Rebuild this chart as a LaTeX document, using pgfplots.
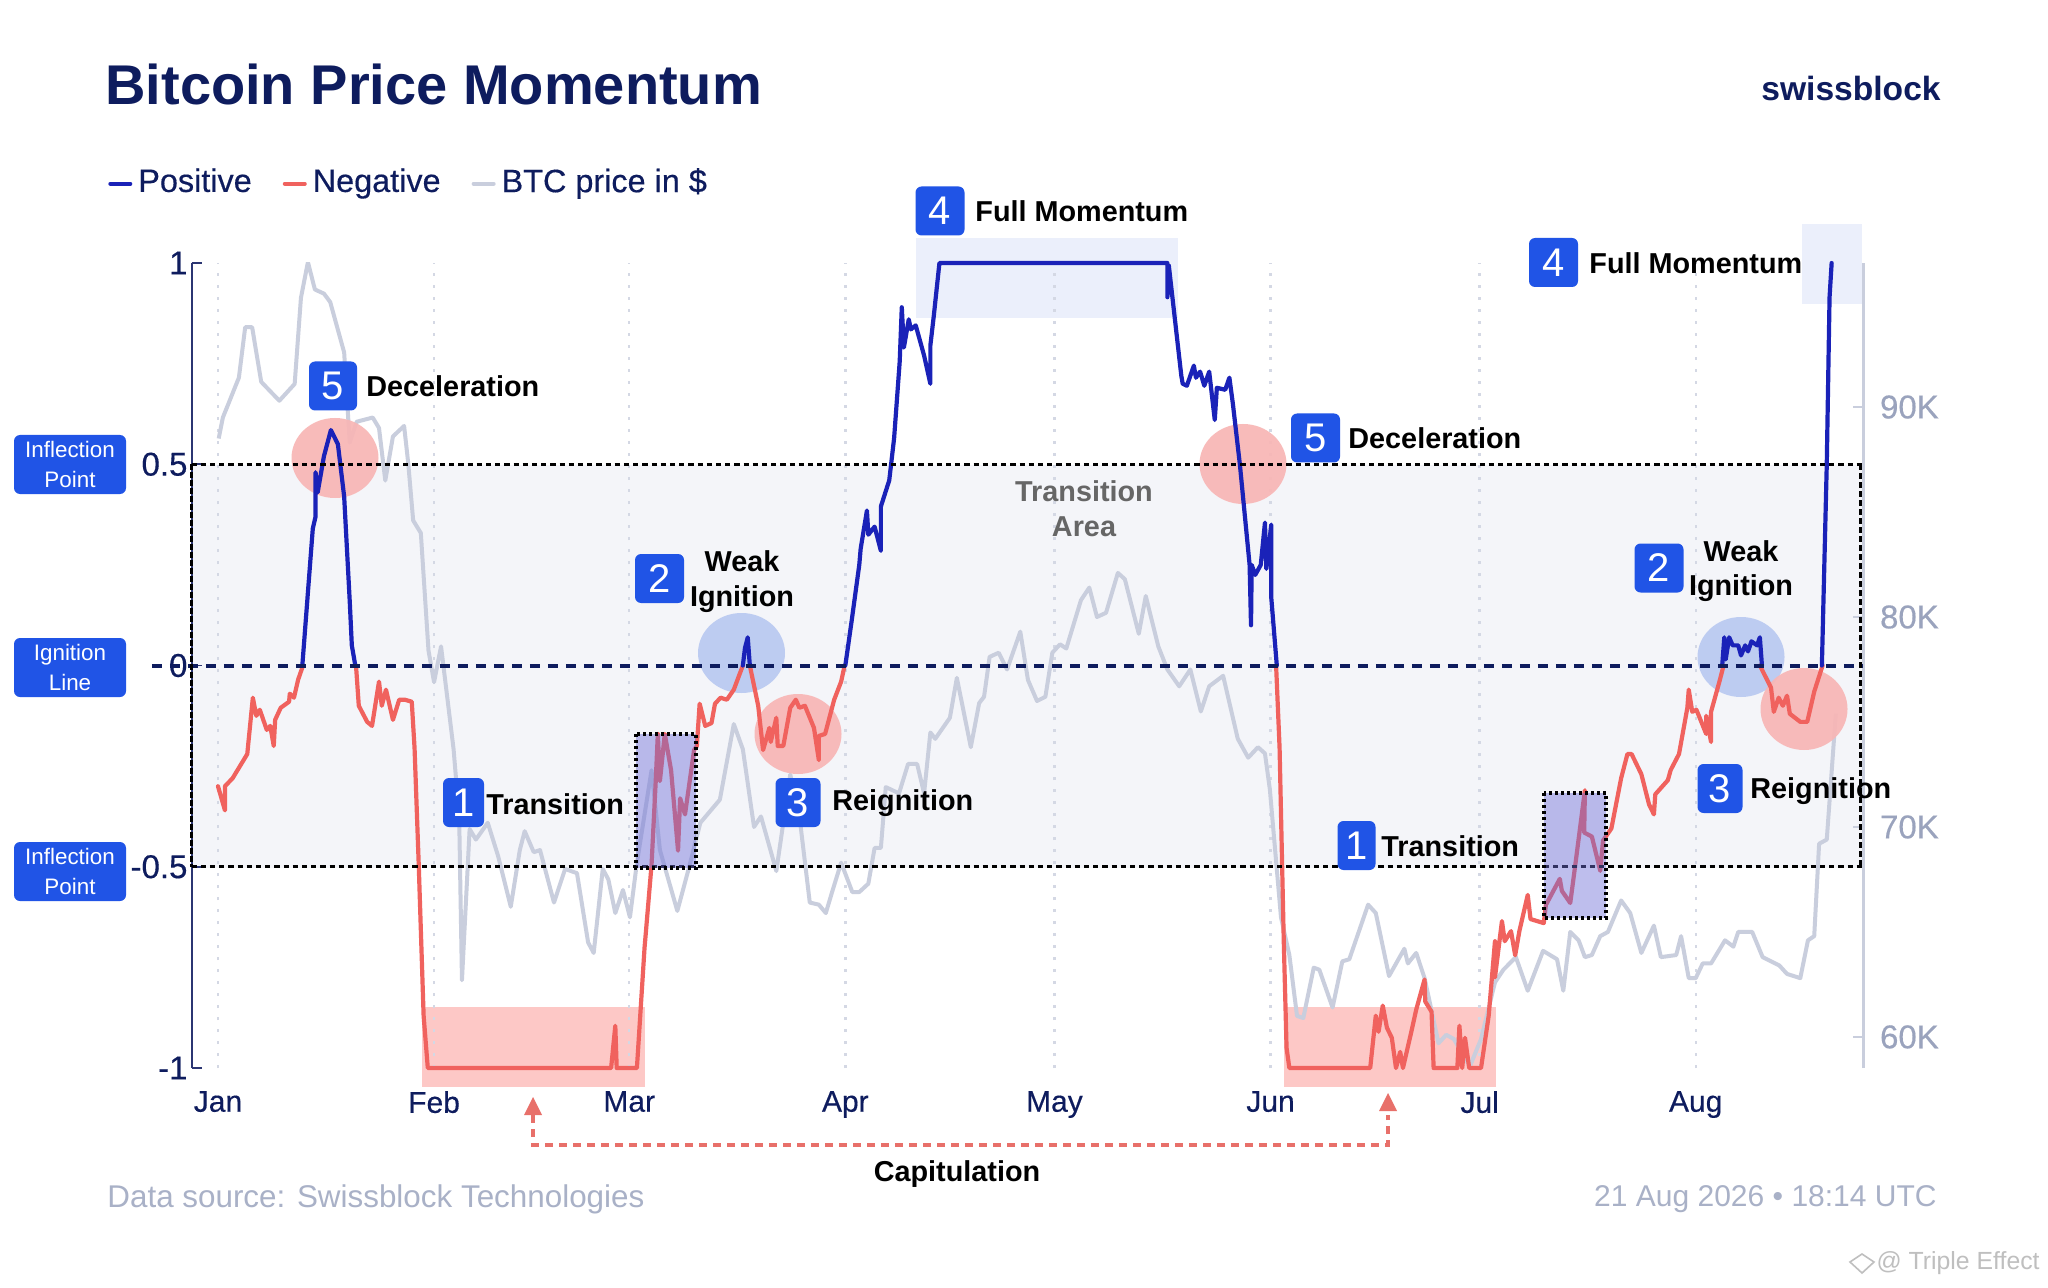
\documentclass[border=0pt]{standalone}
\usepackage{fontspec}
\setmainfont{Liberation Sans}
\newfontfamily\medf[FakeBold=0.35]{Liberation Sans}
\usepackage{pgfplots}
\pgfplotsset{compat=1.18}
\usetikzlibrary{arrows.meta}
\definecolor{navy}{HTML}{0E1C5E}
\definecolor{axnavy}{HTML}{2B3572}
\definecolor{posblue}{HTML}{1A22B8}
\definecolor{negred}{HTML}{F0625E}
\definecolor{btcgrey}{HTML}{C9CEDD}
\definecolor{rightgrey}{HTML}{9AA3BD}
\definecolor{bdg}{HTML}{2054E6}
\definecolor{bandc}{HTML}{F4F5F9}
\definecolor{fullc}{HTML}{EBEFFB}
\definecolor{capc}{HTML}{FDC8C6}
\definecolor{circred}{HTML}{F8B6B5}
\definecolor{circblue}{HTML}{B9C9F1}
\definecolor{boxc}{HTML}{6F6FD8}
\definecolor{arrowc}{HTML}{E8706A}
\newcommand\fs[1]{\fontsize{#1}{#1}\selectfont}
\newcommand\badge[3]{\node[fill=bdg,rounded corners=3pt,text=white,inner sep=0pt,minimum width=#3*0.5pt,minimum height=24.5pt,font=\fs{20}] at (#1) {#2};}
\newcommand\lab[2]{\node[fill=bdg,rounded corners=3pt,text=white,inner sep=0pt,minimum width=56pt,minimum height=29.5pt,align=center,font=\fs{11.2}\linespread{1}] at (#1) {#2};}
\begin{document}
\begin{tikzpicture}
\path[fill=white,use as bounding box] (0,0) rectangle (1024pt,643.5pt);
% backgrounds, in reference pixels
\begin{scope}[shift={(0pt,643.5pt)},x=0.5pt,y=-0.5pt]
\fill[bandc] (192,465) rectangle (1862,868);
\fill[fullc] (916,238) rectangle (1178,318);
\fill[fullc] (1802,224) rectangle (1862,304);
\fill[capc] (422,1007) rectangle (645,1087);
\fill[capc] (1284,1007) rectangle (1496,1087);
\end{scope}
% price axis
\begin{axis}[at={(95.75pt,109.5pt)},anchor=south west,scale only axis,
  width=835.75pt,height=402.5pt,
  xmin=-3.8,xmax=236,ymin=58.52,ymax=96.86,
  axis y line*=right,axis x line*=bottom,
  x axis line style={draw=none},
  y axis line style={-,draw=btcgrey,line width=1.5pt},
  ytick={60,70,80,90},yticklabels={60K,70K,80K,90K},
  yticklabel style={text=rightgrey,font=\medf\fs{16.5},xshift=5pt},
  y tick style={draw=btcgrey,line width=0.8pt},
  major tick length=5pt,
  xtick={0,31,59,90,120,151,181,212},xticklabels={},
  x tick style={draw=none},
  xmajorgrids,
  grid style={draw=btcgrey!80,line width=1.2pt,dash pattern=on 1.5pt off 4.5pt},
]
\addplot[btcgrey,line width=2pt,line join=round,no markers] table {
0.1 88.5
0.7 89.5
3.0 91.4
3.9 93.8
4.9 93.8
6.2 91.2
8.8 90.3
11.0 91.1
11.9 95.2
12.9 96.9
13.9 95.6
15.2 95.4
16.1 95.0
18.1 92.6
18.9 88.3
19.9 89.3
22.2 89.5
23.1 89.0
24.0 86.5
25.1 88.6
26.7 89.1
27.3 87.3
28.0 84.6
29.1 84.0
30.2 78.4
31.0 76.9
32.0 78.6
33.8 73.7
34.6 70.5
35.0 62.7
36.1 69.9
37.0 69.4
38.7 70.2
40.2 68.6
42.0 66.2
43.3 68.9
44.0 69.8
45.3 68.8
46.2 68.9
48.2 66.4
49.8 68.0
51.5 67.8
53.1 64.5
53.9 64.0
55.2 68.0
56.0 67.5
57.0 65.9
58.1 67.0
59.1 65.7
60.1 68.3
62.2 72.7
63.4 68.9
65.9 66.0
67.6 68.1
69.2 70.2
72.0 71.3
74.0 74.9
75.3 73.7
76.9 70.0
77.9 70.5
80.1 67.9
81.1 70.2
82.1 72.5
83.6 70.0
84.9 66.4
86.2 66.3
87.2 65.9
88.1 66.9
89.4 68.3
91.0 66.9
92.0 66.9
93.3 67.3
94.2 69.0
95.1 69.0
95.8 71.9
97.7 71.6
99.0 73.0
100.3 73.0
101.3 71.6
102.2 74.5
102.9 74.2
105.0 75.2
106.0 77.1
108.0 73.8
109.2 75.9
109.9 76.2
110.7 78.1
112.0 78.3
113.2 77.5
115.1 79.3
116.2 77.0
117.5 76.0
118.7 76.2
119.7 78.3
120.8 78.7
121.7 78.5
123.8 80.8
125.0 81.4
126.1 80.0
127.4 80.2
129.1 82.1
130.1 81.8
132.1 79.2
133.1 81.0
134.9 78.6
136.2 77.5
137.9 76.7
139.5 77.5
141.0 75.5
142.2 76.7
144.2 77.2
146.3 74.2
147.8 73.3
149.2 73.8
150.2 73.5
150.9 71.8
152.5 65.7
153.7 63.9
154.8 61.0
155.7 60.9
157.2 63.3
158.0 63.2
159.9 61.4
161.3 63.6
162.3 63.7
165.0 66.3
166.1 65.9
168.0 62.9
170.2 64.2
170.7 63.5
171.9 64.0
173.1 62.8
175.1 59.7
176.2 60.1
177.3 59.9
179.6 58.6
181.2 59.9
183.2 62.6
184.4 63.2
186.2 63.8
187.9 62.2
190.1 64.1
192.1 63.7
193.0 62.2
194.0 65.0
195.2 64.6
196.1 63.8
197.1 63.9
198.3 64.8
199.4 65.0
201.3 66.5
202.6 65.9
204.2 64.0
206.0 65.3
207.0 63.8
209.2 63.9
209.9 64.8
211.0 62.8
212.0 62.8
213.0 63.5
214.2 63.5
216.2 64.6
217.4 64.3
218.1 65.0
220.1 65.0
221.6 63.8
224.0 63.4
225.1 63.0
227.0 62.8
228.1 64.6
229.0 64.8
229.7 69.2
230.8 69.4
232.1 75.4
};
\end{axis}
% circles between the price line and the momentum line
\begin{scope}[shift={(0pt,643.5pt)},x=0.5pt,y=-0.5pt]
\fill[circred,opacity=.92] (335,458) ellipse [x radius=43.5,y radius=40];
\fill[circblue,opacity=.92] (741.5,653) ellipse [x radius=43.5,y radius=40];
\fill[circred,opacity=.92] (798,734) ellipse [x radius=43.5,y radius=40];
\fill[circred,opacity=.92] (1243,464) ellipse [x radius=43.5,y radius=40];
\fill[circblue,opacity=.92] (1741,657) ellipse [x radius=43.5,y radius=40];
\fill[circred,opacity=.92] (1804,709) ellipse [x radius=43.5,y radius=41];
\end{scope}
% momentum axis
\begin{axis}[at={(95.75pt,109.5pt)},anchor=south west,scale only axis,
  width=835.75pt,height=402.5pt,clip=false,
  xmin=-3.8,xmax=236,ymin=-1,ymax=1,
  axis y line*=left,axis x line*=bottom,
  x axis line style={draw=none},
  y axis line style={-,draw=axnavy,line width=1pt},
  ytick={-1,-0.5,0,0.5,1},yticklabels={-1,-0.5,0,0.5,1},
  yticklabel style={text=navy,font=\medf\fs{16.5},xshift=1.5pt},
  y tick style={draw=axnavy,line width=0.8pt},
  major tick length=5pt,
  xtick={0,31,59,90,120,151,181,212},
  xticklabels={Jan,Feb,Mar,Apr,May,Jun,Jul,Aug},
  xticklabel style={text=navy,font=\medf\fs{15},yshift=-8pt},
  x tick style={draw=none},
  legend columns=3,
  legend style={at={(axis description cs:-0.05,1.101)},anchor=west,draw=none,fill=none,
    inner sep=0pt,font=\medf\fs{16.2},text=navy,
    /tikz/every even column/.append style={column sep=12.5pt},
    nodes={inner xsep=3pt}},
  legend cell align=left,
  legend image code/.code={\draw[#1,line width=2pt] (0,-1pt) -- (10pt,-1pt);},
]
\addlegendimage{posblue}\addlegendentry{Positive}
\addlegendimage{negred}\addlegendentry{Negative}
\addlegendimage{btcgrey}\addlegendentry{BTC price in \$}
\pgfplotsset{every axis plot/.append style={line width=2.1pt,line join=round,line cap=round,no markers,forget plot}}
% negative
\addplot[negred] table {
0 -0.30
1.0 -0.36
1.0 -0.30
2.1 -0.28
4.2 -0.22
5.0 -0.08
5.5 -0.125
6.0 -0.11
7.0 -0.16
7.5 -0.15
8.0 -0.20
8.2 -0.135
9.0 -0.105
10.2 -0.09
10.3 -0.07
10.9 -0.08
11.5 -0.035
12.2 0
};
\addplot[negred] table {
19.8 0
20.2 -0.10
21.4 -0.14
22.1 -0.15
23.1 -0.04
23.5 -0.10
24.1 -0.06
25.1 -0.135
26.0 -0.085
26.8 -0.085
27.8 -0.09
28.2 -0.205
28.8 -0.495
29.5 -0.87
30.1 -1
56.4 -1
57.0 -0.895
57.2 -1
60.1 -1
61.2 -0.70
61.4 -0.66
62.2 -0.495
62.8 -0.287
63.1 -0.17
63.4 -0.287
64.1 -0.17
65.0 -0.26
66.0 -0.46
66.3 -0.33
67.0 -0.37
68.3 -0.21
68.7 -0.20
69.1 -0.095
69.9 -0.15
70.8 -0.143
71.3 -0.095
72.1 -0.08
73.0 -0.085
74.0 -0.06
75.3 0
};
\addplot[negred] table {
76.3 0
77.5 -0.10
78.2 -0.21
79.1 -0.155
79.3 -0.19
80.1 -0.13
80.3 -0.20
81.1 -0.20
82.1 -0.105
82.9 -0.085
83.4 -0.105
84.2 -0.10
85.5 -0.155
86.2 -0.235
86.2 -0.175
87.1 -0.17
88.4 -0.085
89.4 -0.04
89.9 0
};
\addplot[negred] table {
151.8 0
152.3 -0.205
152.9 -0.685
153.3 -0.95
153.7 -1
165.3 -1
166.1 -0.87
166.5 -0.91
167.1 -0.845
167.7 -0.90
168.4 -0.925
169.0 -1
169.6 -0.96
170.0 -1
171.2 -0.91
171.9 -0.855
173.1 -0.78
173.2 -0.835
174.1 -0.86
174.4 -1
177.8 -1
178.1 -0.895
178.5 -1
178.9 -0.925
179.5 -1
181.2 -1
182.3 -0.87
183.2 -0.685
183.2 -0.775
184.2 -0.635
184.6 -0.685
185.5 -0.66
186.1 -0.72
186.7 -0.66
187.9 -0.57
188.3 -0.63
190.2 -0.64
190.5 -0.595
192.5 -0.53
192.8 -0.56
194.0 -0.59
194.8 -0.485
196.1 -0.31
196.0 -0.415
197.1 -0.425
198.3 -0.51
198.7 -0.435
199.9 -0.405
201.3 -0.28
202.2 -0.22
202.8 -0.22
204.2 -0.27
205.3 -0.345
206.0 -0.37
206.2 -0.32
208.0 -0.285
208.4 -0.26
209.6 -0.22
210.8 -0.105
211.0 -0.06
211.5 -0.115
212.1 -0.11
213.5 -0.17
213.5 -0.125
214.2 -0.19
214.2 -0.115
215.4 -0.04
216.0 0
};
\addplot[negred] table {
221.2 0
222.8 -0.055
223.2 -0.115
223.9 -0.08
224.5 -0.10
225.1 -0.075
225.5 -0.12
227.0 -0.14
228.0 -0.14
229.0 -0.065
230.2 0
};
% positive
\addplot[posblue] table {
12.1 0
13.6 0.34
14.0 0.37
14.0 0.48
14.3 0.43
15.2 0.52
16.2 0.585
17.2 0.55
18.1 0.42
18.9 0.16
19.2 0.05
19.7 0
};
\addplot[posblue] table {
75.3 0
75.6 0.043
76.0 0.07
76.3 0
};
\addplot[posblue] table {
90.0 0
90.9 0.11
92.0 0.25
92.2 0.29
93.1 0.385
93.3 0.325
94.2 0.345
95.1 0.285
95.1 0.395
96.3 0.46
97.0 0.565
97.8 0.755
98.1 0.89
98.4 0.79
99.1 0.86
99.4 0.835
100.1 0.845
101.3 0.77
102.2 0.70
102.2 0.795
102.7 0.87
103.5 1
136.2 1
136.2 0.915
136.4 0.995
138.2 0.72
138.4 0.70
139.0 0.695
140.0 0.745
140.3 0.715
140.9 0.73
141.5 0.695
142.2 0.73
143.0 0.61
143.3 0.69
144.5 0.685
145.1 0.715
145.6 0.65
146.6 0.50
148.0 0.25
148.2 0.10
148.3 0.25
148.8 0.225
149.6 0.25
150.2 0.355
150.4 0.24
151.1 0.35
151.1 0.17
151.9 0
};
\addplot[posblue] table {
215.8 0
216.1 0.07
216.3 0.015
216.8 0.07
217.3 0.05
218.1 0.05
218.5 0.025
219.1 0.05
219.5 0.035
220.0 0.06
220.8 0.05
221.2 0.07
221.5 0
};
\addplot[posblue] table {
230.1 0
230.8 0.5
231.2 0.915
231.5 1
};
% reference lines
\draw[black,line width=1.6pt,dash pattern=on 2.6pt off 2pt] (axis cs:-3.8,0.5) -- (axis cs:236,0.5);
\draw[black,line width=1.6pt,dash pattern=on 2.6pt off 2pt] (axis cs:-3.8,-0.5) -- (axis cs:236,-0.5);
\draw[navy,line width=2pt,dash pattern=on 5pt off 4pt] (axis cs:-9.5,0) -- (axis cs:236,0);
\draw[black,line width=1.3pt,dash pattern=on 3pt off 1pt] (axis cs:-3.8,0.5) -- (axis cs:-3.8,-0.5);
\draw[black,line width=1.5pt,dash pattern=on 3pt off 1.5pt] (axis cs:235.6,0.5) -- (axis cs:235.6,-0.5);
\end{axis}
% overlays, in reference pixels
\begin{scope}[shift={(0pt,643.5pt)},x=0.5pt,y=-0.5pt]
\fill[boxc,opacity=.45] (636,734) rectangle (696,868);
\fill[boxc,opacity=.45] (1544,793) rectangle (1606,918);
\draw[black,line width=2pt,dash pattern=on 1.5pt off 1.5pt] (636,734) rectangle (696,868);
\draw[black,line width=2pt,dash pattern=on 1.5pt off 1.5pt] (1544,793) rectangle (1606,918);
% title and header
\node[anchor=west,inner sep=0pt,text=navy,font=\fs{28}\bfseries] at (105,84) {Bitcoin Price Momentum};
\node[anchor=east,inner sep=0pt,text=navy,font=\fs{16.8}\bfseries] at (1941,88) {swissblock};
% left labels
\lab{70,464.5}{Inflection\\[3.5pt]Point}
\lab{70,667.5}{Ignition\\[3.5pt]Line}
\lab{70,871.5}{Inflection\\[3.5pt]Point}
% badges and captions
\badge{333,386}{5}{48}
\node[anchor=west,inner sep=0pt,font=\fs{14.4}\bfseries] at (366,386) {Deceleration};
\badge{1315.5,438}{5}{49}
\node[anchor=west,inner sep=0pt,font=\fs{14.4}\bfseries] at (1348,438) {Deceleration};
\badge{940,211}{4}{49}
\node[anchor=west,inner sep=0pt,font=\fs{14.4}\bfseries] at (975,211) {Full Momentum};
\badge{1553.5,262.5}{4}{49}
\node[anchor=west,inner sep=0pt,font=\fs{14.4}\bfseries] at (1589,263) {Full Momentum};
\badge{659.5,578.5}{2}{49}
\node[inner sep=0pt,font=\fs{14.4}\bfseries] at (742,561.5) {Weak};
\node[inner sep=0pt,font=\fs{14.4}\bfseries] at (742,599) {Ignition};
\badge{1659,568}{2}{49}
\node[inner sep=0pt,font=\fs{14.4}\bfseries] at (1741,551) {Weak};
\node[inner sep=0pt,font=\fs{14.4}\bfseries] at (1741,588) {Ignition};
\badge{463.5,802.5}{1}{41}
\node[anchor=west,inner sep=0pt,font=\fs{14.4}\bfseries] at (486,804) {Transition};
\badge{798,802.5}{3}{45}
\node[anchor=west,inner sep=0pt,font=\fs{14.4}\bfseries] at (832,803) {Reignition};
\badge{1356.5,845.5}{1}{38}
\node[anchor=west,inner sep=0pt,font=\fs{14.4}\bfseries] at (1381,846) {Transition};
\badge{1720,788.5}{3}{45}
\node[anchor=west,inner sep=0pt,font=\fs{14.4}\bfseries] at (1750,791) {Reignition};
\node[inner sep=0pt,text=black!60,font=\fs{14.4}\bfseries] at (1084,491) {Transition};
\node[inner sep=0pt,text=black!60,font=\fs{14.4}\bfseries] at (1084,527) {Area};
% capitulation arrows
\draw[arrowc,line width=1.6pt,dash pattern=on 4pt off 3pt] (533,1115) -- (533,1145) -- (1388,1145) -- (1388,1115);
\fill[arrowc] (533,1097) -- (542,1115) -- (524,1115) -- cycle;
\fill[arrowc] (1388,1093) -- (1397,1111) -- (1379,1111) -- cycle;
\node[inner sep=0pt,font=\fs{14.4}\bfseries] at (957,1174) {Capitulation};
% footer
\node[anchor=west,inner sep=0pt,text=rightgrey!85,font=\fs{15.7}] at (107,1199) {Data source: Swissblock Technologies};
\node[anchor=east,inner sep=0pt,text=rightgrey!85,font=\fs{15}] at (1937,1199) {21 Aug 2026 • 18:14 UTC};
\node[anchor=east,inner sep=0pt,text=black!25,font=\fs{12.4}] at (2040,1263) {@ Triple Effect};
\draw[black!25,line width=0.8pt] (1850,1262) -- (1862,1254) -- (1874,1262) -- (1862,1273) -- cycle;
\end{scope}
\end{tikzpicture}
\end{document}
